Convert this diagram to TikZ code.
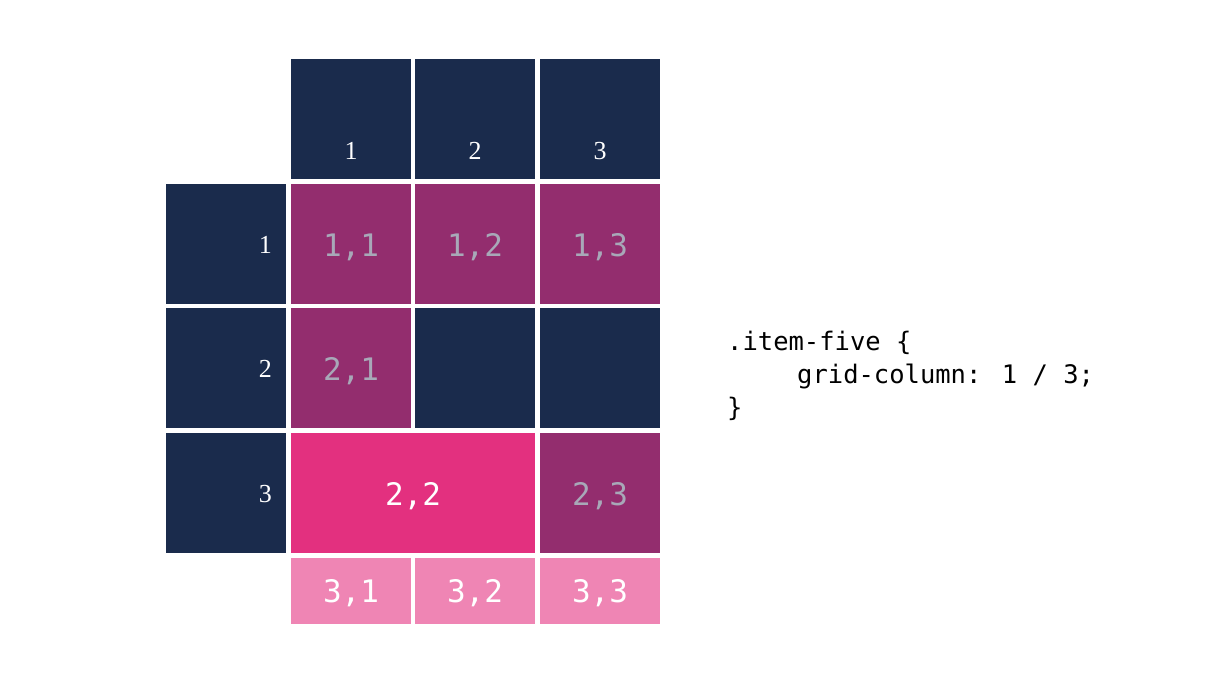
\documentclass[tikz,border=0pt]{standalone}
\usepackage{fontspec}
\setmainfont{Liberation Serif}
\newfontfamily\cellfont{DejaVu Sans Mono}
\definecolor{navy}{HTML}{1A2B4C}
\definecolor{plum}{HTML}{932D6E}
\definecolor{hotpink}{HTML}{E3307F}
\definecolor{lightpink}{HTML}{EF85B4}
\definecolor{labelgray}{HTML}{A8A8B8}
\begin{document}
\begin{tikzpicture}[x=1pt,y=-1pt,
  cellbox/.style={draw=none, inner sep=0pt, outer sep=0pt, minimum width=120pt, minimum height=120pt},
  hdrtext/.style={font=\fontsize{26}{28}\selectfont, text=white, inner sep=0pt},
  celltext/.style={font=\cellfont\fontsize{31}{34}\selectfont, inner sep=0pt, anchor=base},
  codetext/.style={font=\cellfont\fontsize{25.5}{30}\selectfont, text=black, inner sep=0pt, anchor=base west}]
\useasboundingbox[fill=white] (0,0) rectangle (1205,686);
% column headers
\node[cellbox, fill=navy] (ch1) at (351,119) {};
\node[cellbox, fill=navy] (ch2) at (475,119) {};
\node[cellbox, fill=navy] (ch3) at (600,119) {};
\node[hdrtext, anchor=base] (ch1t) at ([yshift=20pt]ch1.south) {1};
\node[hdrtext, anchor=base] (ch2t) at ([yshift=20pt]ch2.south) {2};
\node[hdrtext, anchor=base] (ch3t) at ([yshift=20pt]ch3.south) {3};
% row headers
\node[cellbox, fill=navy] (rh1) at (226,244) {};
\node[cellbox, fill=navy] (rh2) at (226,368) {};
\node[cellbox, fill=navy] (rh3) at (226,493) {};
\node[hdrtext, anchor=base east] (rh1t) at ([xshift=-14pt,yshift=-9pt]rh1.east) {1};
\node[hdrtext, anchor=base east] (rh2t) at ([xshift=-14pt,yshift=-9pt]rh2.east) {2};
\node[hdrtext, anchor=base east] (rh3t) at ([xshift=-14pt,yshift=-9pt]rh3.east) {3};
% row 1
\node[cellbox, fill=plum] (c11) at (351,244) {};
\node[cellbox, fill=plum] (c12) at (475,244) {};
\node[cellbox, fill=plum] (c13) at (600,244) {};
\node[celltext, text=labelgray] (c11t) at ([yshift=-12pt]c11.center) {1,1};
\node[celltext, text=labelgray] (c12t) at ([yshift=-12pt]c12.center) {1,2};
\node[celltext, text=labelgray] (c13t) at ([yshift=-12pt]c13.center) {1,3};
% row 2
\node[cellbox, fill=plum] (c21) at (351,368) {};
\node[cellbox, fill=navy] (c22e) at (475,368) {};
\node[cellbox, fill=navy] (c23e) at (600,368) {};
\node[celltext, text=labelgray] (c21t) at ([yshift=-12pt]c21.center) {2,1};
% row 3
\node[cellbox, fill=hotpink, minimum width=244pt] (c22) at (413,493) {};
\node[cellbox, fill=plum] (c23) at (600,493) {};
\node[celltext, text=white] (c22t) at ([yshift=-12pt]c22.center) {2,2};
\node[celltext, text=labelgray] (c23t) at ([yshift=-12pt]c23.center) {2,3};
% row 4
\node[cellbox, fill=lightpink, minimum height=66pt] (c31) at (351,591) {};
\node[cellbox, fill=lightpink, minimum height=66pt] (c32) at (475,591) {};
\node[cellbox, fill=lightpink, minimum height=66pt] (c33) at (600,591) {};
\node[celltext, text=white] (c31t) at ([yshift=-11pt]c31.center) {3,1};
\node[celltext, text=white] (c32t) at ([yshift=-11pt]c32.center) {3,2};
\node[celltext, text=white] (c33t) at ([yshift=-11pt]c33.center) {3,3};
% code
\node[codetext] (code1) at (727,350) {.item-five \{};
\node[codetext] (code2) at (797,383) {grid-column: 1 / 3;};
\node[codetext] (code3) at (727,416) {\}};
\end{tikzpicture}
\end{document}
